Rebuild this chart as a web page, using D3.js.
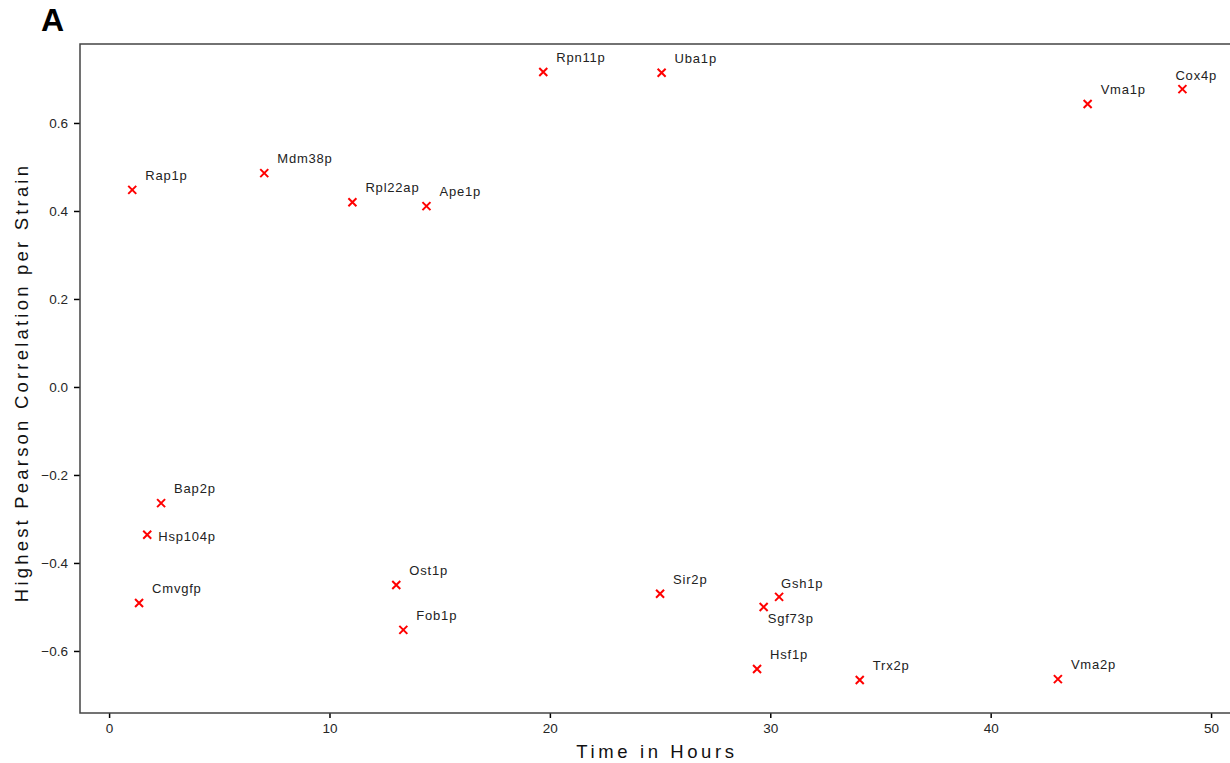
<!DOCTYPE html>
<html>
<head>
<meta charset="utf-8">
<script src="https://cdn.jsdelivr.net/npm/d3@7"></script>
<style>
  html, body { margin: 0; padding: 0; background: #fff; }
  svg { display: block; font-family: "Liberation Sans", Arial, sans-serif; }
</style>
</head>
<body>
<svg id="chart" width="1230" height="763"></svg>
<script>
// ── Data ────────────────────────────────────────────────────────────────
const proteins = ["Rap1p", "Mdm38p", "Rpl22ap", "Ape1p", "Rpn11p", "Uba1p", "Vma1p", "Cox4p",
  "Bap2p", "Hsp104p", "Cmvgfp", "Ost1p", "Fob1p", "Sir2p", "Gsh1p", "Sgf73p", "Hsf1p", "Trx2p", "Vma2p"];
const hours = [1.05, 7.04, 11.04, 14.4, 19.7, 25.07, 44.4, 48.7,
  2.36, 1.73, 1.36, 13.03, 13.35, 25.0, 30.4, 29.7, 29.4, 34.06, 43.05];
const correlation = [0.448, 0.486, 0.420, 0.411, 0.716, 0.714, 0.643, 0.677,
  -0.264, -0.336, -0.491, -0.450, -0.552, -0.470, -0.477, -0.500, -0.641, -0.666, -0.664];
// where each label sits relative to its marker
const labelSide = ["ur", "ur", "ur", "ur", "ur", "ur", "ur", "ul",
  "ur", "r", "ur", "ur", "ur", "ur", "up", "lr", "ur", "ur", "ur"];
const xTicks = [0, 10, 20, 30, 40, 50];
const yTicks = [-0.6, -0.4, -0.2, 0.0, 0.2, 0.4, 0.6];

// ── Layout ──────────────────────────────────────────────────────────────
const W = 1230, H = 763;
const margin = { left: 80, top: 44, right: -2, bottom: 50 };
const svg = d3.select("#chart");

const x = d3.scaleLinear().domain([-1.32, 50.95]).range([margin.left, W - margin.right]);
const y = d3.scaleLinear().domain([-0.741, 0.7795]).range([H - margin.bottom, margin.top]);

const labelOffset = {
  ur: [13, -10],
  up: [2, -9],
  r:  [11, 6],
  lr: [4, 16],
  ul: [-7, -9],
};

const fmt = v => (v < 0 ? "\u2212" : "") + Math.abs(v).toFixed(1);

// ── Axes ────────────────────────────────────────────────────────────────
const yAxis = svg.append("g")
  .attr("transform", `translate(${margin.left},0)`)
  .call(d3.axisLeft(y).tickValues(yTicks).tickFormat(fmt).tickSize(6).tickPadding(6));
const xAxis = svg.append("g")
  .attr("transform", `translate(0,${H - margin.bottom})`)
  .call(d3.axisBottom(x).tickValues(xTicks).tickSize(5).tickPadding(5));

[xAxis, yAxis].forEach(a => {
  a.select(".domain").remove();
  a.selectAll(".tick line").attr("stroke", "#000").attr("stroke-width", 1.5);
  a.selectAll(".tick text")
    .attr("fill", "#262626")
    .style("font-size", "13.5px")
    .style("font-family", "Liberation Sans, Arial, sans-serif");
});

// frame
svg.append("rect")
  .attr("x", x.range()[0]).attr("y", y.range()[1])
  .attr("width", x.range()[1] - x.range()[0])
  .attr("height", y.range()[0] - y.range()[1])
  .attr("fill", "none").attr("stroke", "#444").attr("stroke-width", 1.5);

// axis titles
svg.append("text")
  .attr("x", (578 + 736) / 2).attr("y", 758)
  .attr("text-anchor", "middle")
  .attr("fill", "#111")
  .style("font-size", "18.5px").style("letter-spacing", "3.6px")
  .text("Time in Hours");

svg.append("text")
  .attr("transform", `translate(28,${(165 + 600) / 2}) rotate(-90)`)
  .attr("text-anchor", "middle")
  .attr("fill", "#111")
  .style("font-size", "18.5px").style("letter-spacing", "3.2px")
  .text("Highest Pearson Correlation per Strain");

// panel letter
svg.append("text")
  .attr("x", 41).attr("y", 31)
  .style("font-size", "32px").style("font-weight", "bold")
  .attr("fill", "#000")
  .text("A");

// ── Points ──────────────────────────────────────────────────────────────
const pts = proteins.map((name, i) => ({ name, h: hours[i], r: correlation[i], side: labelSide[i] }));
const s = 4;

const g = svg.append("g");
const pt = g.selectAll("g.pt").data(pts).enter().append("g")
  .attr("class", "pt")
  .attr("transform", d => `translate(${x(d.h)},${y(d.r)})`);

pt.append("path")
  .attr("d", `M${-s},${-s}L${s},${s}M${-s},${s}L${s},${-s}`)
  .attr("stroke", "#ff0000").attr("stroke-width", 2).attr("fill", "none");

pt.append("text")
  .attr("x", d => labelOffset[d.side][0])
  .attr("y", d => labelOffset[d.side][1])
  .attr("fill", "#222")
  .style("font-size", "13px").style("letter-spacing", "0.8px")
  .text(d => d.name);
</script>
</body>
</html>
